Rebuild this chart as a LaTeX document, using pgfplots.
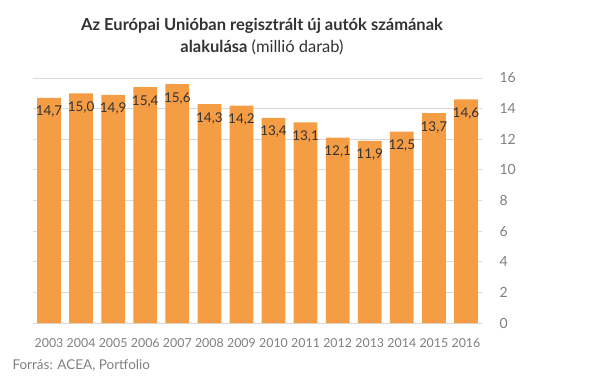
\documentclass[border=0pt]{standalone}
\usepackage{pgfplots}
\pgfplotsset{compat=1.18}
\usepackage{fontspec}
\setmainfont{Lato}
\definecolor{barc}{RGB}{245,157,69}
\definecolor{gridc}{RGB}{217,217,217}
\definecolor{tickc}{RGB}{128,128,128}
\definecolor{titc}{RGB}{51,51,51}
\begin{document}
\begin{tikzpicture}[x=1bp,y=1bp]
\useasboundingbox (0,0) rectangle (605,378);
\fill[white] (0,0) rectangle (605,378);
\begin{axis}[
  at={(33bp,55bp)}, anchor=south west,
  scale only axis, width=449bp, height=245bp,
  xmin=-0.5, xmax=13.5, ymin=0, ymax=16,
  ytick={0,2,...,16},
  xtick=data,
  xticklabels={2003,2004,2005,2006,2007,2008,2009,2010,2011,2012,2013,2014,2015,2016},
  yticklabel pos=right,
  axis line style={draw=none},
  axis x line*=bottom,
  major tick length=0pt,
  ymajorgrids, grid style={gridc, line width=0.8bp},
  yticklabel style={font=\fontsize{14bp}{14bp}\selectfont, text=tickc, xshift=14bp},
  xticklabel style={font=\fontsize{12.4bp}{14bp}\selectfont, text=tickc, yshift=-12bp},
  /pgf/number format/assume math mode=true,
  ybar, bar width=0.74,
  nodes near coords,
  nodes near coords style={anchor=center, yshift=-14bp, font=\fontsize{13.5bp}{15bp}\selectfont, text=titc, /pgf/number format/.cd, fixed, fixed zerofill, precision=1, use comma},
]
\draw[gridc, line width=1bp] (axis cs:-0.5,0) -- (axis cs:13.5,0);
\addplot[fill=barc, draw=none] coordinates {
(0,14.7) (1,15.0) (2,14.9) (3,15.4) (4,15.6) (5,14.3) (6,14.2) (7,13.4) (8,13.1) (9,12.1) (10,11.9) (11,12.5) (12,13.7) (13,14.6)};
\end{axis}
\node[text=titc, align=center, font=\fontsize{16.5bp}{22bp}\selectfont] at (262,341) {\textbf{Az Európai Unióban regisztrált új autók számának}\\\textbf{alakulása} (millió darab)};
\node[anchor=west, text=tickc, font=\fontsize{13.5bp}{14bp}\selectfont] at (9,13) {Forrás: ACEA, Portfolio};
\end{tikzpicture}
\end{document}
